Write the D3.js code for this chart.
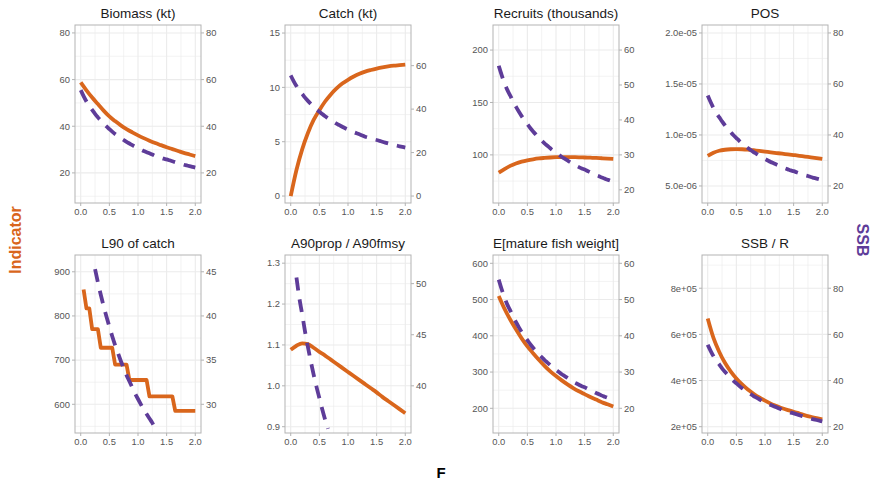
<!DOCTYPE html>
<html><head><meta charset="utf-8">
<script src="https://cdn.jsdelivr.net/npm/d3@7"></script>
<style>
body{margin:0;background:#fff}
svg{display:block}
text{font-family:"Liberation Sans",Arial,Helvetica,sans-serif}
</style>
</head><body>
<svg id="chart" width="873" height="483"></svg>
<script>
// ---------- DATA ----------
const F10 = [0,0.1,0.2,0.3,0.4,0.5,0.6,0.7,0.8,0.9,1.0,1.1,1.2,1.3,1.4,1.5,1.6,1.7,1.8,1.9,2.0];
const F05 = [0,0.05,0.1,0.15,0.2,0.25,0.3,0.35,0.4,0.45,0.5,0.55,0.6,0.65,0.7,0.75,0.8,0.85,0.9,0.95,1.0,
             1.05,1.1,1.15,1.2,1.25,1.3,1.35,1.4,1.45,1.5,1.55,1.6,1.65,1.7,1.75,1.8,1.85,1.9,1.95,2.0];

const ssb = [55.5,52.9,50.6,48.6,47.0,45.3,43.8,42.4,41.1,39.9,38.8,37.7,36.7,35.8,34.9,34.1,33.3,32.6,31.9,31.2,30.6,
             30.0,29.4,28.9,28.4,27.9,27.3,26.9,26.5,26.1,25.8,25.4,25.0,24.6,24.2,23.9,23.5,23.2,22.9,22.6,22.3];

const biomass = [58.8,55.4,52.3,49.5,46.7,44.2,42.2,40.4,38.8,37.4,36.1,34.9,33.8,32.8,31.9,31.0,30.2,29.4,28.6,27.9,27.2];
const catchKt = [0,2.4,4.3,5.8,7.0,7.9,8.7,9.35,9.9,10.35,10.7,11.0,11.25,11.45,11.6,11.73,11.84,11.93,12.0,12.05,12.1];
const recruits = [83,86.5,89.5,91.8,93.5,94.8,95.8,96.6,97.1,97.5,97.8,97.9,97.9,97.8,97.7,97.5,97.3,97.1,96.8,96.5,96.2];
const pos = [7.95e-6,8.25e-6,8.45e-6,8.55e-6,8.6e-6,8.62e-6,8.6e-6,8.56e-6,8.5e-6,8.44e-6,8.37e-6,8.3e-6,8.23e-6,
             8.16e-6,8.1e-6,8.03e-6,7.96e-6,7.88e-6,7.81e-6,7.73e-6,7.65e-6];
const l90 = [null,860,817,817,770,770,770,728,728,728,728,728,690,690,690,690,690,655,655,655,655,
             655,655,655,618,618,618,618,618,618,618,618,618,585,585,585,585,585,585,585,585];
const a90 = [1.088,1.098,1.104,1.102,1.093,1.083,1.074,1.064,1.054,1.044,1.034,1.024,1.014,1.004,0.994,0.984,0.973,0.963,0.953,0.943,0.933];
const matureWeight = [510,475,445,418,393,371,352,334,317,302,289,277,266,256,247,239,231,224,217,211,205];
const ssbPerR = [6.69e5,5.85e5,5.25e5,4.77e5,4.4e5,4.09e5,3.83e5,3.61e5,3.43e5,3.27e5,3.13e5,3.0e5,2.9e5,2.8e5,
                 2.72e5,2.65e5,2.57e5,2.49e5,2.43e5,2.37e5,2.32e5];

const panelTitles = ["Biomass (kt)","Catch (kt)","Recruits (thousands)","POS",
                     "L90 of catch","A90prop / A90fmsy","E[mature fish weight]","SSB / R"];
const indicatorSeries = [biomass,catchKt,recruits,pos,l90,a90,matureWeight,ssbPerR];
const indicatorF = [F10,F10,F10,F10,F05,F10,F10,F10];
const stepped = [false,false,false,false,true,false,false,false];
// secondary axis: SSB = indicator * factor
const ssbFactor = [1,5,0.3,4e6,0.05,40,0.1,1e-4];
const yLimits = [[7.1,83.4],[-0.64,15.74],[54.1,223.9],[3.33e-6,2.078e-5],
                 [535,938],[0.8846,1.32],[131.9,622.9],[1.727e5,9.44e5]];
const leftTicks = [[20,40,60,80],[0,5,10,15],[100,150,200],[5e-6,1e-5,1.5e-5,2e-5],
                   [600,700,800,900],[0.9,1.0,1.1,1.2,1.3],[200,300,400,500,600],[2e5,4e5,6e5,8e5]];
const leftLabels = [["20","40","60","80"],["0","5","10","15"],["100","150","200"],
                    ["5.0e-06","1.0e-05","1.5e-05","2.0e-05"],["600","700","800","900"],
                    ["0.9","1.0","1.1","1.2","1.3"],["200","300","400","500","600"],
                    ["2e+05","4e+05","6e+05","8e+05"]];
const rightTicks = [[20,40,60,80],[0,20,40,60],[20,30,40,50,60],[20,40,60,80],
                    [30,35,40,45],[40,45,50],[20,30,40,50,60],[20,40,60,80]];
const xTicks = [0,0.5,1,1.5,2];
const xLabels = ["0.0","0.5","1.0","1.5","2.0"];
const xMinor = [0.25,0.75,1.25,1.75];

// ---------- LAYOUT ----------
const W = 873, H = 483;
const colX = [75,285,493,702];
const rowY = [25,255];
const pw = 126, ph = 178;
const ORANGE = "#D9661C", PURPLE = "#5E3C99";
const GRID = "#EBEBEB", BORDER = "#B3B3B3", TXT = "#555555";

const svg = d3.select("#chart");
svg.append("rect").attr("width",W).attr("height",H).attr("fill","#fff");

panelTitles.forEach((title,i)=>{
  const px = colX[i%4], py = rowY[Math.floor(i/4)];
  const g = svg.append("g").attr("transform",`translate(${px},${py})`);
  const x = d3.scaleLinear().domain([-0.1,2.1]).range([0,pw]);
  const y = d3.scaleLinear().domain(yLimits[i]).range([ph,0]);
  const lt = leftTicks[i];
  const step = lt[1]-lt[0];
  const yMinor = [];
  for(let k=-1;k<lt.length;k++){
    const v = (k<0? lt[0]-step/2 : lt[k]+step/2);
    if(v>yLimits[i][0] && v<yLimits[i][1]) yMinor.push(v);
  }
  // grid
  g.selectAll(".ymin").data(yMinor).join("line")
    .attr("x1",0).attr("x2",pw).attr("y1",d=>y(d)).attr("y2",d=>y(d))
    .attr("stroke",GRID).attr("stroke-width",0.6);
  g.selectAll(".xmin").data(xMinor).join("line")
    .attr("y1",0).attr("y2",ph).attr("x1",d=>x(d)).attr("x2",d=>x(d))
    .attr("stroke",GRID).attr("stroke-width",0.6);
  g.selectAll(".ymaj").data(lt).join("line")
    .attr("x1",0).attr("x2",pw).attr("y1",d=>y(d)).attr("y2",d=>y(d))
    .attr("stroke",GRID).attr("stroke-width",1.1);
  g.selectAll(".xmaj").data(xTicks).join("line")
    .attr("y1",0).attr("y2",ph).attr("x1",d=>x(d)).attr("x2",d=>x(d))
    .attr("stroke",GRID).attr("stroke-width",1.1);

  // indicator line
  const fs = indicatorF[i], vals = indicatorSeries[i];
  const ind = fs.map((f,k)=>({f, v: vals[k]})).filter(d=>d.v!=null && d.v>=yLimits[i][0] && d.v<=yLimits[i][1]);
  const line = d3.line().x(d=>x(d.f)).y(d=>y(d.v))
    .curve(stepped[i]? d3.curveLinear : d3.curveMonotoneX);
  g.append("path").datum(ind).attr("d",line)
    .attr("fill","none").attr("stroke",ORANGE).attr("stroke-width",3.8)
    .attr("stroke-linejoin","round");

  // SSB dashed line (secondary axis)
  const k = ssbFactor[i];
  const sd = F05.map((f,j)=>({f, v: ssb[j]/k})).filter(d=>d.v>=yLimits[i][0] && d.v<=yLimits[i][1]);
  const sline = d3.line().x(d=>x(d.f)).y(d=>y(d.v)).curve(d3.curveMonotoneX);
  g.append("path").datum(sd).attr("d",sline)
    .attr("fill","none").attr("stroke",PURPLE).attr("stroke-width",3.8)
    .attr("stroke-dasharray","13,9");

  // border
  g.append("rect").attr("width",pw).attr("height",ph)
    .attr("fill","none").attr("stroke",BORDER).attr("stroke-width",1);

  // left axis
  const la = g.append("g").attr("class","laxis");
  lt.forEach((v,j)=>{
    la.append("line").attr("x1",-3).attr("x2",0).attr("y1",y(v)).attr("y2",y(v))
      .attr("stroke",BORDER).attr("stroke-width",1);
    la.append("text").attr("x",-5).attr("y",y(v)).attr("dy","0.35em")
      .attr("text-anchor","end").attr("font-size",9.4).attr("fill",TXT).text(leftLabels[i][j]);
  });
  // right axis
  const ra = g.append("g").attr("class","raxis");
  rightTicks[i].forEach(v=>{
    const yy = y(v/k);
    ra.append("line").attr("x1",pw).attr("x2",pw+3).attr("y1",yy).attr("y2",yy)
      .attr("stroke",BORDER).attr("stroke-width",1);
    ra.append("text").attr("x",pw+5).attr("y",yy).attr("dy","0.35em")
      .attr("text-anchor","start").attr("font-size",9.4).attr("fill",TXT).text(v);
  });
  // x axis
  xTicks.forEach((v,j)=>{
    g.append("line").attr("x1",x(v)).attr("x2",x(v)).attr("y1",ph).attr("y2",ph+3)
      .attr("stroke",BORDER).attr("stroke-width",1);
    g.append("text").attr("x",x(v)).attr("y",ph+12).attr("text-anchor","middle")
      .attr("font-size",9.4).attr("fill",TXT).text(xLabels[j]);
  });
  // title
  g.append("text").attr("x",pw/2).attr("y",-7).attr("text-anchor","middle")
    .attr("font-size",13.5).attr("fill","#1a1a1a").text(title);
});

// axis titles
svg.append("text").attr("transform","translate(15,240) rotate(-90)")
  .attr("text-anchor","middle").attr("dy","0.35em")
  .attr("font-size",16).attr("font-weight","bold").attr("fill",ORANGE).text("Indicator");
svg.append("text").attr("transform","translate(863,240) rotate(90)")
  .attr("text-anchor","middle").attr("dy","0.35em")
  .attr("font-size",16).attr("font-weight","bold").attr("fill",PURPLE).text("SSB");
svg.append("text").attr("x",441).attr("y",473).attr("dy","0.35em")
  .attr("text-anchor","middle").attr("font-size",15).attr("font-weight","bold")
  .attr("fill","#000").text("F");
</script>
</body></html>
